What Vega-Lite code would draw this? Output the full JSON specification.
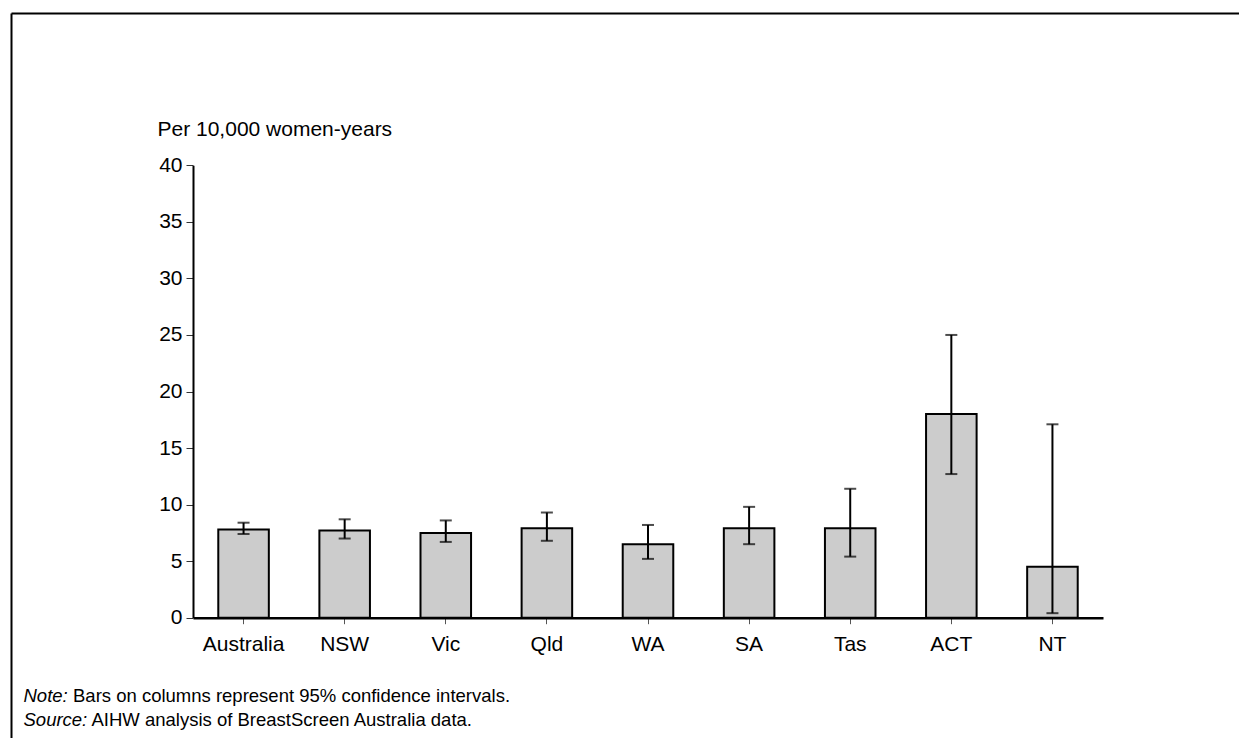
{
  "$schema": "https://vega.github.io/schema/vega-lite/v6.json",
  "width": 1228,
  "height": 725,
  "autosize": "none",
  "padding": {"left": 11, "top": 13, "right": 0, "bottom": 0},
  "background": "white",
  "config": {"view": {"stroke": null}, "font": "Liberation Sans"},
  "data": {
    "values": [
      {"region": "Australia", "rate": 7.8, "lower": 7.4, "upper": 8.4},
      {"region": "NSW", "rate": 7.7, "lower": 7.0, "upper": 8.7},
      {"region": "Vic", "rate": 7.5, "lower": 6.7, "upper": 8.6},
      {"region": "Qld", "rate": 7.9, "lower": 6.8, "upper": 9.3},
      {"region": "WA", "rate": 6.5, "lower": 5.2, "upper": 8.2},
      {"region": "SA", "rate": 7.9, "lower": 6.5, "upper": 9.8},
      {"region": "Tas", "rate": 7.9, "lower": 5.4, "upper": 11.4},
      {"region": "ACT", "rate": 18.0, "lower": 12.7, "upper": 25.0},
      {"region": "NT", "rate": 4.5, "lower": 0.4, "upper": 17.1}
    ]
  },
  "layer": [
    {
      "layer": [
        {
          "mark": {"type": "bar", "fill": "#cccccc", "stroke": "black", "strokeWidth": 2},
          "encoding": {
            "x": {
              "field": "region",
              "type": "nominal",
              "sort": null,
              "scale": {"range": [182, 1092], "paddingInner": 0.5, "paddingOuter": 0.25},
              "axis": {
                "title": "Bars on columns represent 95% confidence intervals.",
                "titleFont": "Liberation Sans",
                "titleFontSize": 18.5,
                "titleFontWeight": "normal",
                "titleColor": "black",
                "titleAlign": "left",
                "titleBaseline": "alphabetic",
                "titleX": 61.5,
                "titleY": 83.5,
                "orient": "bottom",
                "offset": -120.3,
                "domainColor": "black",
                "domainWidth": 2.5,
                "tickColor": "#555555",
                "tickSize": 6,
                "tickWidth": 1,
                "labelFont": "Liberation Sans",
                "labelFontSize": 21,
                "labelColor": "black",
                "labelPadding": 10,
                "labelAngle": 0,
                "grid": false
              }
            },
            "y": {
              "field": "rate",
              "type": "quantitative",
              "title": "Per 10,000 women-years",
              "scale": {"domain": [0, 40], "range": [604.7, 152.3], "nice": false, "zero": true},
              "axis": {
                "title": "Per 10,000 women-years",
                "orient": "left",
                "titleAngle": 0,
                "titleAlign": "left",
                "titleBaseline": "alphabetic",
                "titleX": -36,
                "titleY": 122.5,
                "titleFont": "Liberation Sans",
                "titleFontSize": 21,
                "titleFontWeight": "normal",
                "titleColor": "black",
                "values": [0, 5, 10, 15, 20, 25, 30, 35, 40],
                "offset": -182,
                "domainColor": "black",
                "domainWidth": 2,
                "tickColor": "#333333",
                "tickSize": 7,
                "tickWidth": 1,
                "labelFont": "Liberation Sans",
                "labelFontSize": 21,
                "labelColor": "black",
                "labelPadding": 4,
                "labelFlush": false,
                "grid": false
              }
            }
          }
        },
        {
          "mark": {
            "type": "errorbar",
            "ticks": {"size": 12, "thickness": 2, "color": "black"},
            "rule": {"strokeWidth": 2, "color": "black"}
          },
          "encoding": {
            "x": {"field": "region", "type": "nominal", "sort": null},
            "y": {"field": "lower", "type": "quantitative", "title": "Per 10,000 women-years"},
            "y2": {"field": "upper"}
          }
        }
      ]
    },
    {
      "mark": {"type": "point", "opacity": 0},
      "encoding": {
        "x": {
          "field": "rate",
          "type": "quantitative",
          "scale": {"domain": [0, 1], "range": [0, 1228]},
          "axis": {
            "orient": "top",
            "title": "AIHW analysis of BreastScreen Australia data.",
            "titleFont": "Liberation Sans",
            "titleFontSize": 18.5,
            "titleFontWeight": "normal",
            "titleColor": "black",
            "titleAlign": "left",
            "titleBaseline": "alphabetic",
            "titleX": 80,
            "titleY": 712.5,
            "labels": false,
            "ticks": false,
            "grid": false,
            "domainColor": "black",
            "domainWidth": 2
          }
        },
        "y": {
          "field": "rate",
          "type": "quantitative",
          "scale": {"domain": [0, 1], "range": [0, 725]},
          "axis": {
            "orient": "left",
            "title": ["Note:", "Source:"],
            "titleFont": "Liberation Sans",
            "titleFontSize": 18.5,
            "titleFontWeight": "normal",
            "titleFontStyle": "italic",
            "titleColor": "black",
            "titleAngle": 0,
            "titleAlign": "left",
            "titleBaseline": "alphabetic",
            "titleLineHeight": 24,
            "titleX": 12,
            "titleY": 688.5,
            "labels": false,
            "ticks": false,
            "grid": false,
            "domainColor": "black",
            "domainWidth": 2
          }
        }
      }
    }
  ],
  "resolve": {
    "scale": {"x": "independent", "y": "independent"},
    "axis": {"x": "independent", "y": "independent"}
  }
}
